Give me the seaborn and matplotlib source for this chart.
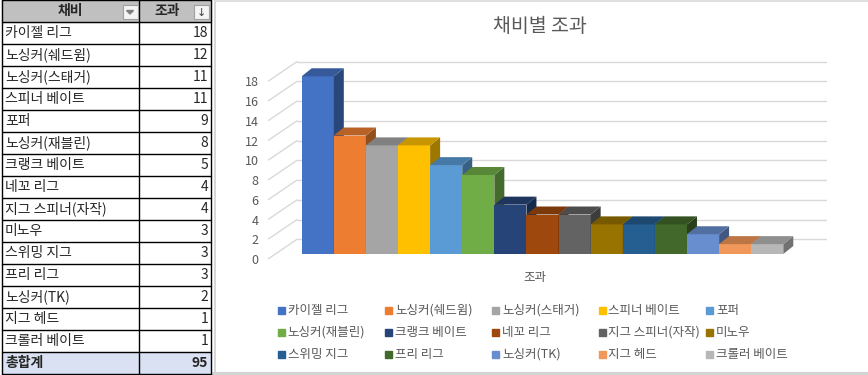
import numpy as np
import pandas as pd
import matplotlib
matplotlib.use("Agg")
import matplotlib.pyplot as plt
from matplotlib.patches import Polygon, Rectangle
from matplotlib.lines import Line2D
from matplotlib.transforms import ScaledTranslation
import matplotlib.colors as mcolors
import seaborn as sns

# data from the pivot table
names = ['카이젤 리그', '노싱커(쉐드윔)', '노싱커(스태거)', '스피너 베이트', '포퍼',
         '노싱커(재블린)', '크랭크 베이트', '네꼬 리그', '지그 스피너(자작)', '미노우',
         '스위밍 지그', '프리 리그', '노싱커(TK)', '지그 헤드', '크롤러 베이트']
counts = [18, 12, 11, 11, 9, 8, 5, 4, 4, 3, 3, 3, 2, 1, 1]
colors = ['#4472C4', '#ED7D31', '#A5A5A5', '#FFC000', '#5B9BD5', '#70AD47',
          '#264478', '#9E480E', '#636363', '#997300', '#255E91', '#43682B',
          '#698ED0', '#F1975A', '#B7B7B7']
yticks = list(range(0, 20, 2))
title = '채비별 조과'
col_headers = ['채비', '조과']
total_label = '총합계'

sns.set_style('white')
plt.rcParams['font.family'] = ['Noto Sans CJK KR', 'DejaVu Sans']

W, H = 868, 375
fig = plt.figure(figsize=(W / 100, H / 100), dpi=100)
to_fig = fig.transFigure.inverted()

# overlay in pixel units for table / frame
bg = fig.add_axes([0, 0, 1, 1], zorder=0)
bg.set_xlim(0, W)
bg.set_ylim(H, 0)
bg.axis('off')

# ---- pivot table ----
row_h = 22.0
x0, xmid, x1 = 1.5, 139, 211
n_rows = len(names) + 2
bg.add_patch(Rectangle((x0, 0), x1 - x0, row_h, color='#C0C0C0', zorder=1))
ytot = row_h * (len(names) + 1)
bg.add_patch(Rectangle((x0, ytot), x1 - x0, row_h, color='#D9E1F2', zorder=1))
for r in range(n_rows + 1):
    bg.plot([x0, x1], [r * row_h, r * row_h], color='black', lw=1, zorder=2)
for xx in [x0, xmid, x1]:
    bg.plot([xx, xx], [0, n_rows * row_h], color='black', lw=1, zorder=2)

bg.text(70, row_h / 2, col_headers[0], ha='center', va='center', fontsize=10,
        fontweight='bold', zorder=3)
bg.text(167, row_h / 2, col_headers[1], ha='center', va='center', fontsize=10,
        fontweight='bold', zorder=3)
# filter buttons
for bx in [122.5, 194]:
    bg.add_patch(Rectangle((bx, 5), 15, 14, facecolor='#F4F4F4', edgecolor='#A0A0A0',
                           lw=0.8, zorder=3))
bg.add_patch(Polygon([[126.5, 10.5], [133.5, 10.5], [130, 14]], color='#7F7F7F', zorder=4))
bg.text(201.5, 12.5, '↓', ha='center', va='center', fontsize=8, color='#404040',
        family='DejaVu Sans', zorder=4)

for i, (nm, c) in enumerate(zip(names, counts)):
    yc = row_h * (i + 1) + row_h / 2
    bg.text(5, yc, nm, ha='left', va='center', fontsize=10, zorder=3)
    bg.text(208, yc, str(c), ha='right', va='center', fontsize=10, zorder=3)
bg.text(5, ytot + row_h / 2, total_label, ha='left', va='center', fontsize=10,
        fontweight='bold', zorder=3)
bg.text(208, ytot + row_h / 2, str(sum(counts)), ha='right', va='center', fontsize=10,
        fontweight='bold', zorder=3)

# chart frame
bg.plot([215, 215], [0, 373], color='#D0D0D0', lw=1.2, zorder=1)
bg.plot([215, W], [0.6, 0.6], color='#D9D9D9', lw=1.2, zorder=1)
bg.plot([213, W], [373.5, 373.5], color='#D4D4D4', lw=3, zorder=1)

# ---- chart ----
ppu = 9.873  # pixels per unit
pad_u = 0.3
# back wall with gridlines
wall = fig.add_axes([297 / W, (H - 239.3 - pad_u * ppu) / H, 530 / W,
                     (18 + 2 * pad_u) * ppu / H], zorder=1)
wall.set_xlim(0, 1)
wall.set_ylim(-pad_u, 18 + pad_u)
wall.set_yticks(yticks)
wall.set_xticks([])
wall.grid(axis='y', color='#D9D9D9', lw=1)
wall.tick_params(axis='y', length=0, labelleft=False)
for s in wall.spines.values():
    s.set_visible(False)
wall.patch.set_alpha(0)

# diagonal floor/side lines
for k in yticks:
    px, py = wall.transData.transform((0, k))
    pts = to_fig.transform([[px - 28.5, py - 19.4], [px, py]])
    fig.add_artist(Line2D(pts[:, 0], pts[:, 1], color='#D9D9D9', lw=1, zorder=1))

# front faces of the bars
ax = fig.add_axes([301.7 / W, (H - 254) / H, 481.6 / W, 18 * ppu / H], zorder=2)
df = pd.DataFrame({'name': names, 'count': counts})
sns.barplot(data=df, x='name', y='count', hue='name', palette=colors, width=1.0,
            saturation=1, legend=False, ax=ax, linewidth=0)
ax.set_xlim(-0.5, len(names) - 0.5)
ax.set_ylim(0, 18)
ax.set_yticks(yticks)
ax.set_xticks([])
ax.set_xlabel('')
ax.set_ylabel('')
ax.patch.set_alpha(0)
for s in ax.spines.values():
    s.set_visible(False)
ax.tick_params(axis='y', length=0, pad=31, labelsize=9, labelcolor='#595959')
for lab in ax.get_yticklabels():
    lab.set_transform(lab.get_transform() + ScaledTranslation(0, -0.05, fig.dpi_scale_trans))

# 3D side and top faces
dx, dy = 10, 8


def shade(c, f):
    r, g, b = mcolors.to_rgb(c)
    return (r * f, g * f, b * f)


for i, p in enumerate(ax.patches):
    p.set_zorder(10 + 3 * i)
    bx, bw, bh = p.get_x(), p.get_width(), p.get_height()
    fc = colors[i]
    bl = ax.transData.transform((bx, bh))
    br = ax.transData.transform((bx + bw, bh))
    b0 = ax.transData.transform((bx + bw, 0))
    side = np.array([b0, br, br + [dx, dy], b0 + [dx, dy]])
    top = np.array([bl, br, br + [dx, dy], bl + [dx, dy]])
    ax.add_artist(Polygon(to_fig.transform(side), closed=True, transform=fig.transFigure,
                          facecolor=shade(fc, 0.62), edgecolor='none', zorder=11 + 3 * i,
                          clip_on=False))
    ax.add_artist(Polygon(to_fig.transform(top), closed=True, transform=fig.transFigure,
                          facecolor=shade(fc, 0.78), edgecolor='none', zorder=12 + 3 * i,
                          clip_on=False))

# titles
fig.text(540 / W, 1 - 26 / H, title, ha='center', va='center', fontsize=14, color='#595959')
fig.text(535 / W, 1 - 277 / H, col_headers[1], ha='center', va='center', fontsize=9,
         color='#595959')

# legend
col_x = [277.5, 385, 492, 598.5, 706]
row_y = [310.5, 332.5, 354.5]
for i, (nm, c) in enumerate(zip(names, colors)):
    lx, ly = col_x[i % 5], row_y[i // 5]
    bg.add_patch(Rectangle((lx, ly - 3.5), 7, 7, color=c, zorder=3))
    bg.text(lx + 10, ly, nm, ha='left', va='center', fontsize=9, color='#595959', zorder=3)

fig.savefig('out.png', dpi=100)
